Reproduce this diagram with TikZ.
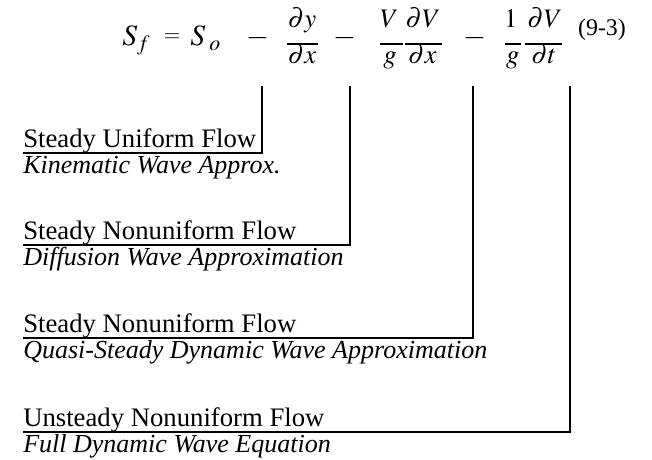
\documentclass[tikz,border=0pt]{standalone}
\usepackage{mathptmx}
\usepackage{fontspec}
\setmainfont{Liberation Serif}

\begin{document}
\begin{tikzpicture}[
  eqn/.style={anchor=base, inner sep=0pt, font=\fontsize{21}{25}\selectfont},
  part/.style={anchor=base, inner sep=0pt, font=\fontsize{19}{22}\selectfont},
  flow/.style={anchor=base west, inner sep=0pt, font=\fontsize{19}{22}\selectfont},
  approx/.style={anchor=base west, inner sep=0pt, font=\fontsize{18.5}{22}\selectfont\itshape},
  fracbar/.style={line width=1.6pt, color=black},
  bracket/.style={line width=1.2pt, color=black}]
\useasboundingbox (0,0) rectangle (16.3,-11.5);
% equation (9-3)
\node[eqn, anchor=base west] (sf) at (3.05,-1.15) {$S_f$};
\node[eqn, font=\fontsize{15}{18}\selectfont] (eq) at (4.3,-1.05) {$=$};
\node[eqn, anchor=base west] (so) at (4.75,-1.15) {$S_{\hspace{3pt}o}$};
\node[eqn] (m1) at (6.45,-1.15) {$-$};
\node[part] (n1) at (7.55,-0.7) {$\partial y$};
\node[part] (d1) at (7.55,-1.6) {$\partial x$};
\draw[fracbar] (7.175,-1.1) -- (7.95,-1.1);
\node[eqn] (m2) at (8.625,-1.15) {$-$};
\node[part] (n2) at (10.26,-0.7) {$V\hspace{5pt}\partial V$};
\node[part] (d2) at (10.25,-1.6) {$g\hspace{8pt}\partial x$};
\draw[fracbar] (9.5,-1.1) -- (10.075,-1.1);
\draw[fracbar] (10.125,-1.1) -- (11.05,-1.1);
\node[eqn] (m3) at (11.875,-1.15) {$-$};
\node[part] (n3) at (13.33,-0.7) {$1\hspace{7pt}\partial V$};
\node[part] (d3) at (13.28,-1.6) {$g\hspace{8.5pt}\partial t$};
\draw[fracbar] (12.625,-1.1) -- (13.025,-1.1);
\draw[fracbar] (13.125,-1.1) -- (14.05,-1.1);
\node[part, font=\fontsize{17}{20}\selectfont] (num) at (15.05,-0.9) {(9-3)};
% brackets
\coordinate (top1) at (6.55,-2.15);
\coordinate (top2) at (8.75,-2.15);
\coordinate (top3) at (11.825,-2.15);
\coordinate (top4) at (14.25,-2.15);
\coordinate (end1) at (0.575,-3.825);
\coordinate (end2) at (0.575,-6.125);
\coordinate (end3) at (0.575,-8.45);
\coordinate (end4) at (0.575,-10.8);
\draw[bracket] (top1) |- (end1);
\draw[bracket] (top2) |- (end2);
\draw[bracket] (top3) |- (end3);
\draw[bracket] (top4) |- (end4);
% labels
\node[flow] (f1) at (0.575,-3.7) {Steady Uniform Flow};
\node[approx] (a1) at (0.575,-4.35) {Kinematic Wave Approx.};
\node[flow] (f2) at (0.575,-6.0) {Steady Nonuniform Flow};
\node[approx] (a2) at (0.575,-6.65) {Diffusion Wave Approximation};
\node[flow] (f3) at (0.575,-8.325) {Steady Nonuniform Flow};
\node[approx] (a3) at (0.575,-8.975) {Quasi-Steady Dynamic Wave Approximation};
\node[flow] (f4) at (0.575,-10.675) {Unsteady Nonuniform Flow};
\node[approx] (a4) at (0.575,-11.325) {Full Dynamic Wave Equation};
\end{tikzpicture}
\end{document}
